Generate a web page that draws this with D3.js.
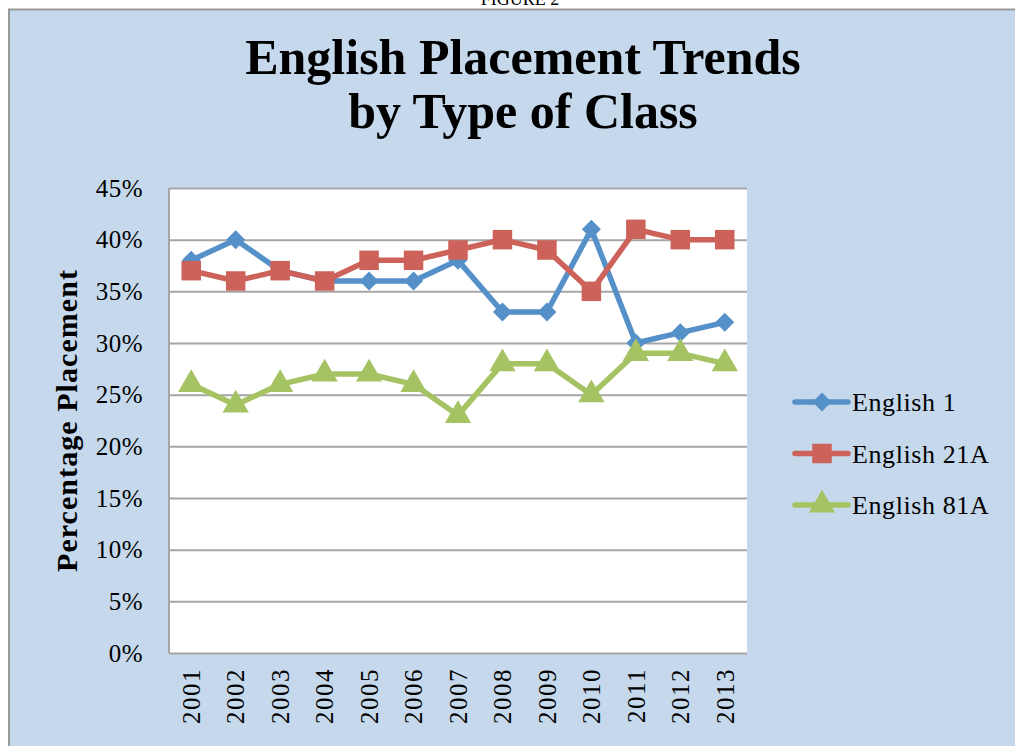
<!DOCTYPE html>
<html>
<head>
<meta charset="utf-8">
<script src="https://cdn.jsdelivr.net/npm/d3@7"></script>
<style>
  body { margin: 0; background: #fff; }
  svg { display: block; }
</style>
</head>
<body>
<script>
// data
const years = ["2001", "2002", "2003", "2004", "2005", "2006", "2007",
               "2008", "2009", "2010", "2011", "2012", "2013"];
const english1   = [38, 40, 37, 36, 36, 36, 38, 33, 33, 41, 30, 31, 32];
const english21A = [37, 36, 37, 36, 38, 38, 39, 40, 39, 35, 41, 40, 40];
const english81A = [26, 24, 26, 27, 27, 26, 23, 28, 28, 25, 29, 29, 28];
const yTicks = [0, 5, 10, 15, 20, 25, 30, 35, 40, 45];
const seriesNames = ["English 1", "English 21A", "English 81A"];

const series = [
    {name: seriesNames[0], values: english1,   color: "#5690c9", symbol: d3.symbolDiamond2, size: 230},
    {name: seriesNames[1], values: english21A, color: "#cd625a", symbol: d3.symbolSquare,   size: 380},
    {name: seriesNames[2], values: english81A, color: "#a5c363", symbol: d3.symbolTriangle, size: 300}
];

const W = 1015, H = 746;
const plot = {left: 169, right: 747, top: 188, bottom: 653};
const serif = "'Liberation Serif', 'DejaVu Serif', serif";

const svg = d3.select("body").append("svg")
    .attr("width", W)
    .attr("height", H);

// figure caption, cut off at the top like in the scan
svg.append("text")
    .attr("x", 520)
    .attr("y", 5)
    .attr("text-anchor", "middle")
    .style("font-family", serif)
    .style("font-size", "18px")
    .text("FIGURE 2");

// chart background with border
svg.append("rect")
    .attr("x", 9)
    .attr("y", 9.5)
    .attr("width", W + 10)
    .attr("height", H + 10)
    .attr("fill", "#c5d8ec")
    .attr("stroke", "#9a9a9a")
    .attr("stroke-width", 2);

// title
const title = svg.append("text")
    .attr("text-anchor", "middle")
    .style("font-family", serif)
    .style("font-size", "50px")
    .style("font-weight", "bold");
title.append("tspan").attr("x", 523).attr("y", 74).text("English Placement Trends");
title.append("tspan").attr("x", 523).attr("y", 128).text("by Type of Class");

// scales
const x = d3.scaleBand()
    .domain(years)
    .range([plot.left, plot.right]);
const y = d3.scaleLinear()
    .domain([0, 45])
    .range([plot.bottom, plot.top]);

// plot area
svg.append("rect")
    .attr("x", plot.left)
    .attr("y", plot.top)
    .attr("width", plot.right - plot.left)
    .attr("height", plot.bottom - plot.top)
    .attr("fill", "#fff");

// horizontal grid lines
svg.append("g")
    .attr("transform", "translate(" + plot.left + ",0)")
    .call(d3.axisLeft(y).tickValues(yTicks).tickSize(-(plot.right - plot.left)).tickFormat(""))
    .call(g => g.select(".domain").remove())
    .call(g => g.selectAll("line").attr("stroke", "#a6a6a6").attr("stroke-width", 2));

// left border of plot
svg.append("line")
    .attr("x1", plot.left).attr("x2", plot.left)
    .attr("y1", plot.top).attr("y2", plot.bottom)
    .attr("stroke", "#a6a6a6")
    .attr("stroke-width", 2);

// y axis labels
svg.append("g")
    .attr("transform", "translate(" + plot.left + ",0)")
    .call(d3.axisLeft(y).tickValues(yTicks).tickSize(0).tickPadding(26).tickFormat(d => d + "%"))
    .call(g => g.select(".domain").remove())
    .call(g => g.selectAll("text")
        .style("font-family", serif)
        .style("font-size", "25px")
        .style("letter-spacing", "0.5px")
        .attr("fill", "#000"));

// x axis labels, rotated
svg.append("g")
    .attr("transform", "translate(0," + plot.bottom + ")")
    .call(d3.axisBottom(x).tickSize(0).tickFormat(d => d))
    .call(g => g.select(".domain").remove())
    .call(g => g.selectAll("text")
        .style("font-family", serif)
        .style("font-size", "25px")
        .style("letter-spacing", "1.5px")
        .attr("fill", "#000")
        .attr("text-anchor", "end")
        .attr("transform", "rotate(-90)")
        .attr("x", -15)
        .attr("y", 0)
        .attr("dy", "0.35em"));

// y axis title
svg.append("text")
    .attr("transform", "translate(77,421) rotate(-90)")
    .attr("text-anchor", "middle")
    .attr("textLength", 302)
    .attr("lengthAdjust", "spacing")
    .style("font-family", serif)
    .style("font-size", "30px")
    .style("font-weight", "bold")
    .text("Percentage Placement");

// lines and markers
const line = d3.line()
    .x((d, i) => x(years[i]) + x.bandwidth() / 2)
    .y(d => y(d));

series.forEach(s => {
    const g = svg.append("g");
    g.append("path")
        .datum(s.values)
        .attr("fill", "none")
        .attr("stroke", s.color)
        .attr("stroke-width", 5.5)
        .attr("stroke-linejoin", "round")
        .attr("d", line);
    g.selectAll("path.marker")
        .data(s.values)
        .join("path")
        .attr("class", "marker")
        .attr("fill", s.color)
        .attr("transform", (d, i) => "translate(" + (x(years[i]) + x.bandwidth() / 2) + "," + y(d) + ")")
        .attr("d", d3.symbol(s.symbol, s.size));
});

// legend
const legend = svg.append("g")
    .attr("transform", "translate(795,402)");
series.forEach((s, i) => {
    const row = legend.append("g").attr("transform", "translate(0," + (i * 51.5) + ")");
    row.append("line")
        .attr("x1", 0).attr("x2", 53)
        .attr("stroke", s.color)
        .attr("stroke-width", 5.5)
        .attr("stroke-linecap", "round");
    row.append("path")
        .attr("transform", "translate(27,0)")
        .attr("fill", s.color)
        .attr("d", d3.symbol(s.symbol, s.size));
    row.append("text")
        .attr("x", 57)
        .attr("dy", "0.35em")
        .style("font-family", serif)
        .style("font-size", "26px")
        .style("letter-spacing", "0.6px")
        .text(s.name);
});
</script>
</body>
</html>
